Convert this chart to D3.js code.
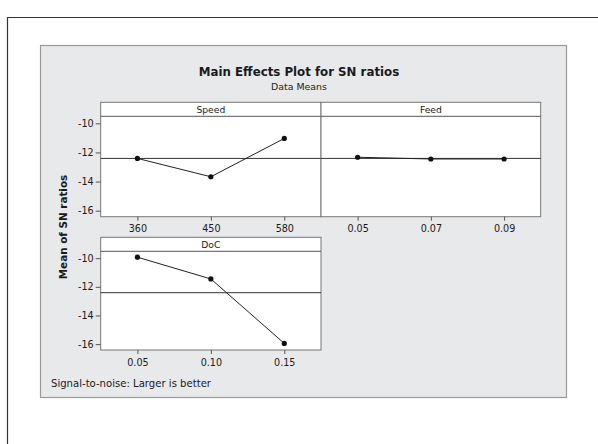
<!DOCTYPE html>
<html><head><meta charset="utf-8">
<script src="https://cdn.jsdelivr.net/npm/d3@7"></script>
<style>body{margin:0;background:#fff}svg{display:block}</style>
</head><body>
<script>
// ---- data ----
const speedLevels = ["360", "450", "580"];
const speedMeans = [-12.41, -13.67, -11.04];
const feedLevels = ["0.05", "0.07", "0.09"];
const feedMeans = [-12.33, -12.45, -12.45];
const docLevels = ["0.05", "0.10", "0.15"];
const docMeans = [-9.93, -11.45, -15.95];
const yTicks = [-10, -12, -14, -16];
const overallMean = -12.41;
const factorNames = ["Speed", "Feed", "DoC"];

const W = 598, H = 444;
const svg = d3.select("body").append("svg").attr("width", W).attr("height", H);
const font = "'DejaVu Sans', Verdana, sans-serif";

// outer frame
svg.append("path").attr("d", `M7.5,${H}V17.5H${W}`).attr("fill", "none").attr("stroke", "#333").attr("stroke-width", 1.2);
// gray background
svg.append("rect").attr("x", 40.5).attr("y", 45.5).attr("width", 526).attr("height", 352)
  .attr("fill", "#e8e9ea").attr("stroke", "#999").attr("stroke-width", 1.2);

svg.append("text").attr("x", 299).attr("y", 76).attr("text-anchor", "middle")
  .attr("font-family", font).attr("font-weight", "bold").attr("font-size", 11.8).attr("fill", "#1a1a1a")
  .text("Main Effects Plot for SN ratios");
svg.append("text").attr("x", 299).attr("y", 90).attr("text-anchor", "middle")
  .attr("font-family", font).attr("font-size", 9.4).attr("fill", "#222").text("Data Means");

svg.append("text").attr("transform", "translate(67,227) rotate(-90)").attr("text-anchor", "middle")
  .attr("font-family", font).attr("font-weight", "bold").attr("font-size", 10.4).attr("fill", "#1a1a1a")
  .text("Mean of SN ratios");

svg.append("text").attr("x", 51).attr("y", 387).attr("font-family", font).attr("font-size", 10.1).attr("fill", "#1a1a1a")
  .text("Signal-to-noise: Larger is better");

const yDomain = [-16.41, -9.52];
const panels = [
  {name: factorNames[0], levels: speedLevels, means: speedMeans, x0: 100.7, x1: 321, y0: 102.3, y1: 216.7, yAxis: true},
  {name: factorNames[1], levels: feedLevels, means: feedMeans, x0: 321, x1: 540.7, y0: 102.3, y1: 216.7, yAxis: false},
  {name: factorNames[2], levels: docLevels, means: docMeans, x0: 100.7, x1: 321, y0: 237.3, y1: 350, yAxis: true}
];
const stripH = 14;

panels.forEach(p => {
  const g = svg.append("g");
  const x = d3.scalePoint().domain(p.levels).range([p.x0, p.x1]).padding(0.5);
  const y = d3.scaleLinear().domain(yDomain).range([p.y1, p.y0 + stripH]);
  g.append("rect").attr("x", p.x0).attr("y", p.y0).attr("width", p.x1 - p.x0).attr("height", p.y1 - p.y0)
    .attr("fill", "#fff").attr("stroke", "#777").attr("stroke-width", 1);
  g.append("line").attr("x1", p.x0).attr("x2", p.x1).attr("y1", p.y0 + stripH).attr("y2", p.y0 + stripH)
    .attr("stroke", "#555").attr("stroke-width", 1);
  g.append("text").attr("x", (p.x0 + p.x1) / 2).attr("y", p.y0 + 10.5).attr("text-anchor", "middle")
    .attr("font-family", font).attr("font-size", 9.2).attr("fill", "#1a1a1a").text(p.name);
  // reference line
  g.append("line").attr("x1", p.x0).attr("x2", p.x1).attr("y1", y(overallMean)).attr("y2", y(overallMean))
    .attr("stroke", "#333").attr("stroke-width", 1);
  // x axis
  const xa = g.append("g").attr("transform", `translate(0,${p.y1})`)
    .call(d3.axisBottom(x).tickSize(4).tickSizeOuter(0));
  xa.select(".domain").remove();
  xa.selectAll("line").attr("stroke", "#555");
  xa.selectAll("text").attr("font-family", font).attr("font-size", 9.6).attr("fill", "#1a1a1a").attr("dy", "0.9em");
  if (p.yAxis) {
    const ya = g.append("g").attr("transform", `translate(${p.x0},0)`)
      .call(d3.axisLeft(y).tickValues(yTicks).tickFormat(d => String(d)).tickSize(5).tickPadding(2).tickSizeOuter(0));
    ya.select(".domain").remove();
    ya.selectAll("line").attr("stroke", "#555");
    ya.selectAll("text").attr("font-family", font).attr("font-size", 9.6).attr("fill", "#1a1a1a");
  }
  const pts = p.levels.map((l, i) => [x(l), y(p.means[i])]);
  g.append("path").attr("d", d3.line()(pts)).attr("fill", "none").attr("stroke", "#222").attr("stroke-width", 1);
  g.selectAll("circle.pt").data(pts).enter().append("circle").attr("class", "pt")
    .attr("cx", d => d[0]).attr("cy", d => d[1]).attr("r", 2.6).attr("fill", "#111");
});
</script>
</body></html>
